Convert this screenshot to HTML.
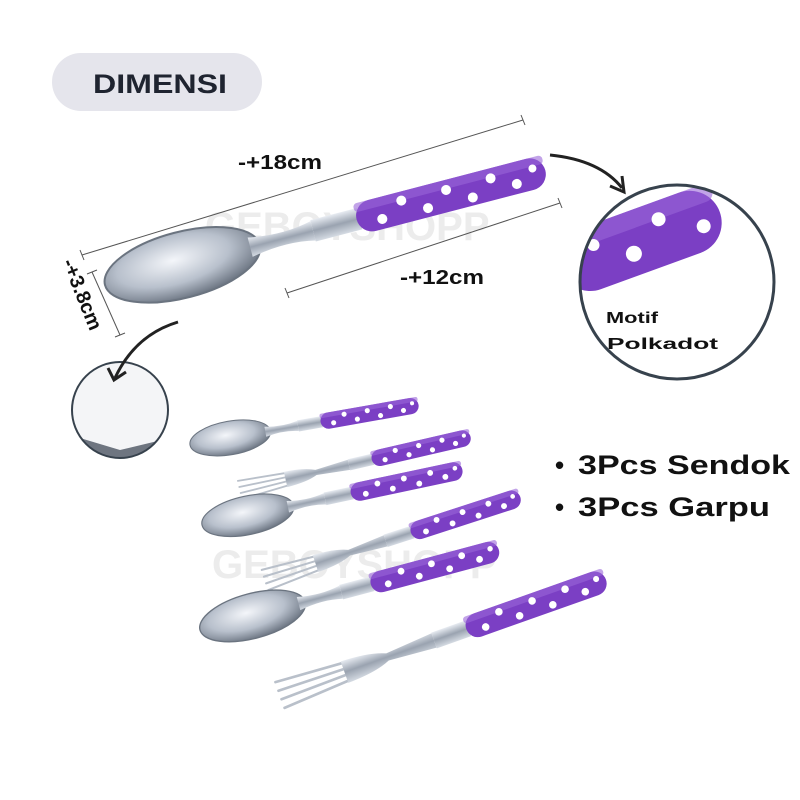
<!DOCTYPE html>
<html><head><meta charset="utf-8"><style>
html,body{margin:0;padding:0;background:#fff}
svg{display:block}
text{font-family:"Liberation Sans",sans-serif;font-weight:bold}
</style></head><body>
<svg width="800" height="800" viewBox="0 0 800 800" xmlns="http://www.w3.org/2000/svg">
<defs>
<linearGradient id="metal" x1="0" y1="0" x2="0" y2="1">
<stop offset="0" stop-color="#e8ecf2"/><stop offset="0.5" stop-color="#9aa3b0"/><stop offset="1" stop-color="#d5dbe3"/></linearGradient>
<radialGradient id="bowl" cx="0.45" cy="0.4" r="0.6">
<stop offset="0" stop-color="#f4f6fa"/><stop offset="0.6" stop-color="#b8c0cc"/><stop offset="1" stop-color="#6f7885"/></radialGradient>
<g id="handle">
<rect x="215" y="-11" width="48" height="22" fill="url(#metal)"/>
<rect x="260" y="-16" width="195" height="32" rx="16" fill="#7b3fc4"/>
<rect x="260" y="-16" width="195" height="9" rx="4" fill="#9a66d8" opacity="0.6"/>
<g fill="#fff">
<circle cx="285" cy="6" r="5"/><circle cx="308" cy="-7" r="5"/><circle cx="332" cy="7" r="5"/>
<circle cx="354" cy="-6" r="5"/><circle cx="378" cy="8" r="5"/><circle cx="400" cy="-6" r="5"/>
<circle cx="424" cy="6" r="5"/><circle cx="443" cy="-5" r="4"/></g>
</g>
<g id="spoon">
<ellipse cx="80" cy="0" rx="80" ry="33" fill="url(#bowl)" stroke="#6b7480" stroke-width="2"/>
<path d="M150,-10 Q185,-3 215,-10 L215,10 Q185,3 150,10 Z" fill="url(#metal)"/>
<use href="#handle"/>
</g>
<g id="fork">
<g stroke="#b9c0ca" stroke-width="3.5" stroke-linecap="round">
<line x1="0" y1="-18" x2="95" y2="-12"/><line x1="0" y1="-6" x2="95" y2="-4"/>
<line x1="0" y1="6" x2="95" y2="4"/><line x1="0" y1="18" x2="95" y2="12"/></g>
<path d="M90,-15 Q130,-14 150,-5 L215,-10 L215,10 L150,5 Q130,14 90,15 Z" fill="url(#metal)"/>
<use href="#handle"/>
</g>
</defs>

<rect x="52" y="53" width="210" height="58" rx="29" fill="#e5e5ec"/>
<text x="93" y="93" font-size="27" textLength="134" lengthAdjust="spacingAndGlyphs" fill="#1f2430">DIMENSI</text>

<text x="205" y="240" font-size="40" fill="#ececec">GEBOYSHOPP</text>
<text x="212" y="578" font-size="40" fill="#ececec">GEBOYSHOPP</text>

<g stroke="#555" stroke-width="1">
<line x1="82" y1="255" x2="523" y2="120"/><line x1="80" y1="250" x2="84" y2="260"/><line x1="521" y1="115" x2="525" y2="125"/>
<line x1="287" y1="293" x2="560" y2="203"/><line x1="285" y1="288" x2="289" y2="298"/><line x1="558" y1="198" x2="562" y2="208"/>
<line x1="92" y1="272" x2="120" y2="335"/><line x1="87" y1="274" x2="97" y2="270"/><line x1="115" y1="337" x2="125" y2="333"/>
</g>
<text x="238" y="169" font-size="20" textLength="84" lengthAdjust="spacingAndGlyphs" fill="#111">-+18cm</text>
<text x="400" y="284" font-size="20" textLength="84" lengthAdjust="spacingAndGlyphs" fill="#111">-+12cm</text>
<text transform="translate(62,262) rotate(68)" font-size="20" fill="#111">-+3.8cm</text>

<use href="#spoon" transform="translate(105,285) rotate(-14.6)"/>

<clipPath id="c1"><circle cx="677" cy="282" r="97"/></clipPath>
<circle cx="677" cy="282" r="97" fill="#fff"/>
<g clip-path="url(#c1)">
<g transform="translate(560,270) rotate(-20)">
<rect x="0" y="-32" width="170" height="64" rx="32" fill="#7b3fc4"/>
<rect x="0" y="-32" width="170" height="18" rx="9" fill="#9a66d8" opacity="0.6"/>
<circle cx="75" cy="10" r="8" fill="#fff"/><circle cx="110" cy="-14" r="7" fill="#fff"/><circle cx="150" cy="8" r="7" fill="#fff"/><circle cx="40" cy="-12" r="6" fill="#fff"/>
</g></g>
<circle cx="677" cy="282" r="97" fill="none" stroke="#37424d" stroke-width="3"/>
<text x="606" y="323" font-size="16" textLength="52" lengthAdjust="spacingAndGlyphs" fill="#111">Motif</text>
<text x="607" y="349" font-size="16" textLength="111" lengthAdjust="spacingAndGlyphs" fill="#111">Polkadot</text>

<clipPath id="c2"><circle cx="120" cy="410" r="48"/></clipPath>
<circle cx="120" cy="410" r="48" fill="#f4f5f7"/>
<g clip-path="url(#c2)"><path d="M70,435 L120,450 L170,438 L170,470 L70,470Z" fill="#6e7580"/></g>
<circle cx="120" cy="410" r="48" fill="none" stroke="#37424d" stroke-width="2"/>

<path d="M550,155 Q600,160 622,188" fill="none" stroke="#222" stroke-width="3"/>
<path d="M610,186 L624,192 L622,176" fill="none" stroke="#222" stroke-width="3"/>
<path d="M178,322 Q135,335 115,378" fill="none" stroke="#222" stroke-width="3"/>
<path d="M108,368 L114,380 L126,372" fill="none" stroke="#222" stroke-width="3"/>

<use href="#spoon" transform="translate(190,445) rotate(-10) scale(0.51)"/>
<use href="#fork" transform="translate(240,490) rotate(-13) scale(0.52)"/>
<use href="#spoon" transform="translate(202,525) rotate(-12) scale(0.585)"/>
<use href="#fork" transform="translate(265,580) rotate(-18) scale(0.59)"/>
<use href="#spoon" transform="translate(200,630) rotate(-15) scale(0.68)"/>
<use href="#fork" transform="translate(280,695) rotate(-19.5) scale(0.76)"/>

<text x="555" y="474" font-size="26" fill="#111">•</text>
<text x="578" y="474" font-size="27" textLength="212" lengthAdjust="spacingAndGlyphs" fill="#111">3Pcs Sendok</text>
<text x="555" y="516" font-size="26" fill="#111">•</text>
<text x="578" y="516" font-size="27" textLength="192" lengthAdjust="spacingAndGlyphs" fill="#111">3Pcs Garpu</text>
</svg>
</body></html>
